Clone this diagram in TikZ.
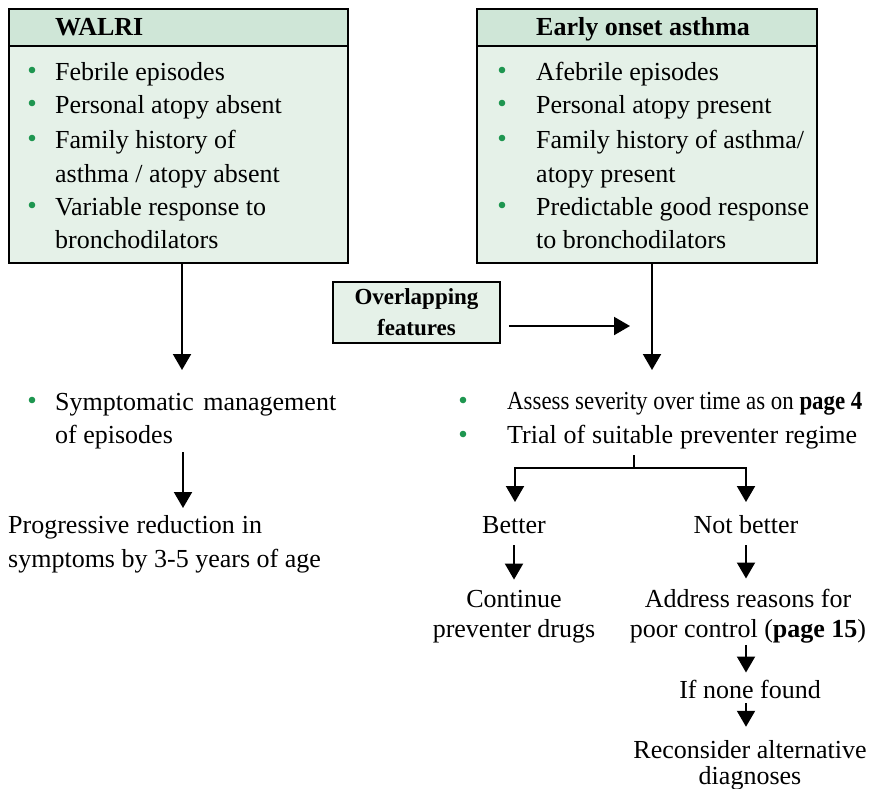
\documentclass[tikz,border=0pt]{standalone}
\usepackage{graphicx}
\usepackage{fontspec}
\setmainfont{Liberation Serif}
\usetikzlibrary{positioning,arrows.meta,calc}
\definecolor{headgreen}{HTML}{CFE6D7}
\definecolor{bodygreen}{HTML}{E5F1E8}
\definecolor{dotgreen}{HTML}{1E9650}
\newcommand{\bigfont}{\fontsize{26}{30}\selectfont}

\begin{document}
\begin{tikzpicture}[x=1pt,y=-1pt]
  \tikzstyle{txt} = [inner sep=0pt,anchor=base west,font=\bigfont]
  \tikzstyle{ctxt} = [txt,anchor=base]
  \tikzstyle{htxt} = [txt,font=\bigfont\bfseries]
  \tikzstyle{box} = [draw,line width=1.8pt,inner sep=0pt,anchor=north west]
  \tikzstyle{arr} = [line width=2pt,-{Triangle[length=16pt,width=18pt]}]
  \useasboundingbox (0,0) rectangle (878,788);

  % the two top boxes
  \node[box,fill=bodygreen,minimum width=339pt,minimum height=217pt] (wbody) at (8,45) {};
  \node[box,fill=headgreen,minimum width=339pt,minimum height=37pt] (whead) at (8,8) {};
  \node[box,fill=bodygreen,minimum width=340pt,minimum height=217pt] (ebody) at (476,45) {};
  \node[box,fill=headgreen,minimum width=340pt,minimum height=37pt] (ehead) at (476,8) {};
  \node[htxt] (wtitle) at (55,35) {WALRI};
  \node[htxt] (etitle) at (536,35) {Early onset asthma};

  \foreach \y/\t [count=\i] in {80/Febrile episodes,113/Personal atopy absent,
      148/Family history of,182/{asthma / atopy absent},215/Variable response to,
      248/bronchodilators}
    \node[txt] (w\i) at (55,\y) {\t};
  \foreach \y/\t [count=\i] in {80/Afebrile episodes,113/Personal atopy present,
      148/{Family history of asthma/},182/atopy present,215/Predictable good response,
      248/to bronchodilators}
    \node[txt] (e\i) at (536,\y) {\t};
  \foreach \y in {70,103,138,205}{
    \fill[dotgreen] (32,\y) circle (3.3pt);
    \fill[dotgreen] (502,\y) circle (3.3pt);
  }

  % overlapping features
  \node[draw,line width=1.8pt,fill=bodygreen,minimum width=167pt,minimum height=61pt,
    align=center,font=\fontsize{23}{31}\selectfont\bfseries] (over) at (416.5,312.5)
    {Overlapping\\features};
  \coordinate (otip) at (630,326);
  \draw[arr] ($(over.east |- otip)+(8,0)$) -- (otip);

  \coordinate (wtip) at (182,370);
  \coordinate (etip) at (652,370);
  \draw[arr] (wbody.south -| wtip) -- (wtip);
  \draw[arr] (ebody.south -| etip) -- (etip);

  % left branch
  \fill[dotgreen] (32,400) circle (3.3pt);
  \node[txt] (symp) at (55,410) {\makebox[281pt][s]{Symptomatic management}};
  \node[txt] (epis) at (55,443) {of episodes};
  \coordinate (s1) at (183,452);
  \coordinate (s2) at (183,508);
  \draw[arr] (s1) -- (s2);
  \node[txt] (prog) at (8,533) {\makebox[254pt][s]{Progressive reduction in}};
  \node[txt] (symb) at (8,567) {symptoms by 3-5 years of age};

  % right branch
  \fill[dotgreen] (463,400) circle (3.3pt);
  \fill[dotgreen] (463,434) circle (3.3pt);
  \node[txt] (assess) at (507,409)
    {\scalebox{0.88}[1]{Assess severity over time as on \textbf{page 4}}};
  \node[txt] (trial) at (507,443) {\makebox[350pt][s]{Trial of suitable preventer regime}};
  \coordinate (fork) at (634,468);
  \coordinate (btip) at (515,502);
  \coordinate (ntip) at (746,502);
  \draw[line width=2pt] (634,455) -- (fork);
  \draw[arr] (fork) -| (btip);
  \draw[arr] (fork) -| (ntip);

  \node[ctxt] (better) at (514,533) {Better};
  \node[ctxt] (notb) at (746,533) {Not better};
  \node[ctxt] (cont) at (514,607) {Continue};
  \node[ctxt] (prev) at (514,637) {preventer drugs};
  \node[ctxt] (addr) at (748,607) {Address reasons for};
  \node[ctxt] (poor) at (748,637) {poor control (\textbf{page 15})};
  \node[ctxt] (none) at (750,698) {If none found};
  \node[ctxt] (recon) at (750,758) {Reconsider alternative};
  \node[ctxt] (diag) at (750,784) {diagnoses};

  \draw[arr,shorten <=12pt,shorten >=10pt] (better.south) -- (cont.north);
  \draw[arr,shorten <=12pt,shorten >=10pt] (notb.south) -- (notb.south |- addr.north);
  \draw[arr,shorten <=2pt,shorten >=7pt] (poor.south -| notb) -- (none.north -| notb);
  \draw[arr,shorten <=5pt,shorten >=13pt] (none.south -| notb) -- (recon.north -| notb);
\end{tikzpicture}
\end{document}
